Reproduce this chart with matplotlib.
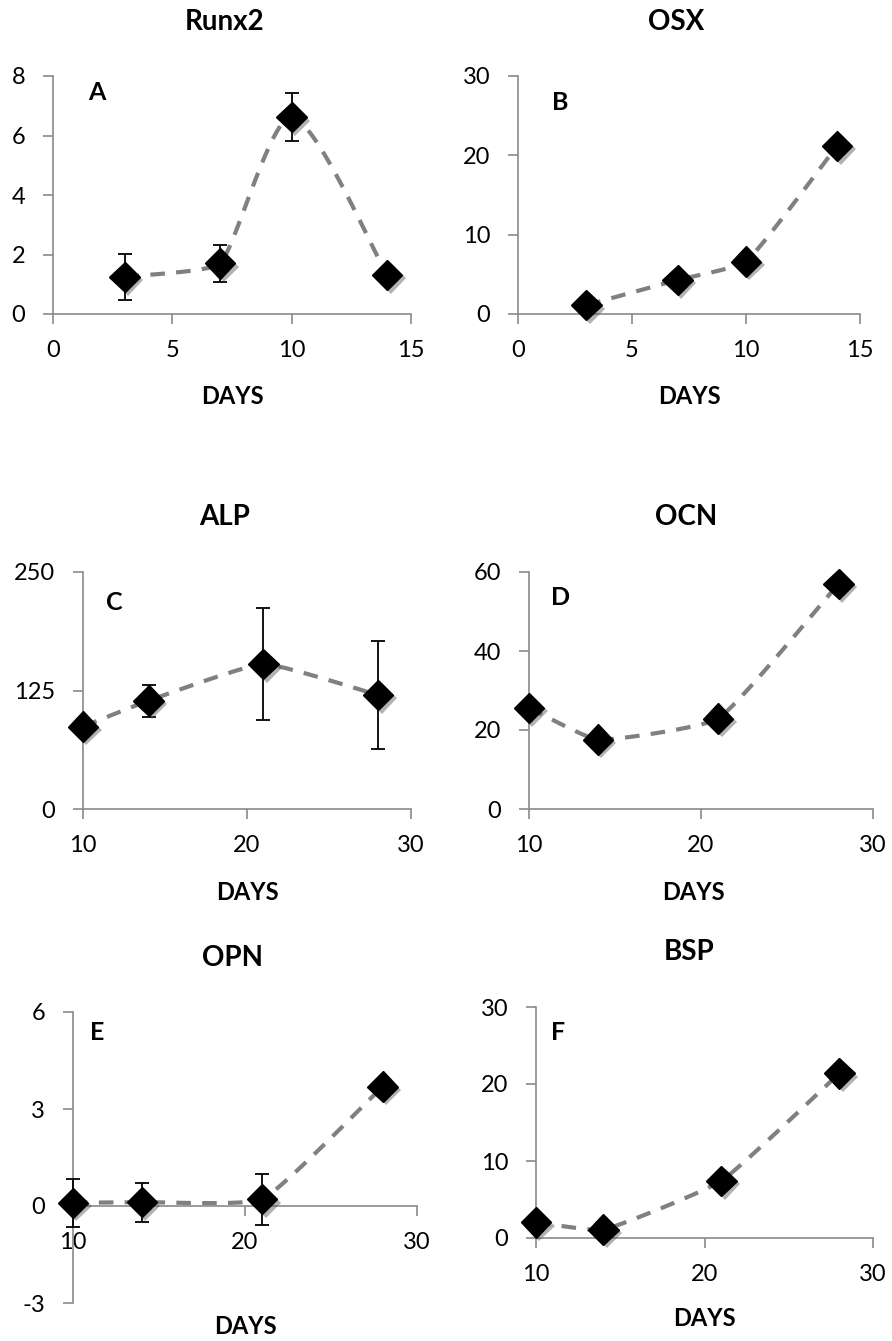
import numpy as np
import matplotlib
matplotlib.use("Agg")
import matplotlib.pyplot as plt
import matplotlib.patheffects as pe

plt.rcParams['font.family'] = ['Lato', 'DejaVu Sans']
plt.rcParams['axes.unicode_minus'] = False

# ---------------- data ----------------
days_early = [3, 7, 10, 14]
days_late = [10, 14, 21, 28]

runx2 = [1.25, 1.70, 6.62, 1.31]
runx2_err = [0.77, 0.61, 0.82, 0.0]
osx = [1.13, 4.29, 6.60, 21.2]
alp = [87.0, 114.3, 152.9, 120.3]
alp_err = [0.0, 17.0, 58.7, 57.0]
ocn = [25.6, 17.55, 22.9, 57.0]
opn = [0.10, 0.12, 0.21, 3.69]
opn_err = [0.75, 0.60, 0.79, 0.25]
bsp = [2.03, 1.08, 7.42, 21.37]

titles = ["Runx2", "OSX", "ALP", "OCN", "OPN", "BSP"]
letters = ["A", "B", "C", "D", "E", "F"]
xlabel = "DAYS"

W, H = 892, 1341
fig = plt.figure(figsize=(W / 100, H / 100), dpi=100)

GRAY = "#8a8a8a"
LINE = "#808080"


def add_ax(l, r, t, b):
    return fig.add_axes([l / W, 1 - b / H, (r - l) / W, (b - t) / H])


def smooth_curve(ax, xs, ys, n=40, k=0.13):
    pts = ax.transData.transform(np.column_stack([xs, ys]))
    P = np.vstack([pts[0], pts, pts[-1]])
    out = []

    def unit(v):
        nv = np.hypot(*v)
        return v / nv if nv > 0 else v

    for i in range(1, len(P) - 2):
        p0, p1, p2, p3 = P[i - 1], P[i], P[i + 1], P[i + 2]
        L = np.hypot(*(p2 - p1))
        c1 = p1 + unit(p2 - p0) * L * k
        c2 = p2 - unit(p3 - p1) * L * k
        t = np.linspace(0, 1, n)[:, None]
        seg = ((1 - t) ** 3) * p1 + 3 * ((1 - t) ** 2) * t * c1 + 3 * (1 - t) * t ** 2 * c2 + t ** 3 * p2
        out.append(seg if i == 1 else seg[1:])
    out = np.vstack(out)
    d = ax.transData.inverted().transform(out)
    return d[:, 0], d[:, 1]


def panel(rect, xs, ys, err, xlim, xticks, ylim, yticks, title, tpos, letter, lpos,
          dpos, zero_spine=False):
    ax = add_ax(*rect)
    ax.set_xlim(*xlim)
    ax.set_ylim(*ylim)
    ax.set_xticks(xticks)
    ax.set_yticks(yticks)
    for s in ["top", "right"]:
        ax.spines[s].set_visible(False)
    for s in ["left", "bottom"]:
        ax.spines[s].set_color(GRAY)
        ax.spines[s].set_linewidth(1.2)
    if zero_spine:
        ax.spines["bottom"].set_position(("data", 0))
    ax.tick_params(axis="both", direction="out", length=7, width=1.2, color=GRAY,
                   labelsize=17, labelcolor="black")
    ax.tick_params(axis="x", pad=12)
    ax.tick_params(axis="y", pad=13)
    ax.patch.set_alpha(0)

    cx, cy = smooth_curve(ax, xs, ys)
    ax.plot(cx, cy, color=LINE, lw=3.0, ls=(0, (3.5, 2.7)), dash_capstyle="butt",
            zorder=2, clip_on=False)
    if err is not None:
        ax.errorbar(xs, ys, yerr=err, fmt="none", ecolor="black", elinewidth=1.3,
                    capsize=5, capthick=1.3, zorder=3, clip_on=False)
    ax.plot(xs, ys, ls="none", marker="D", ms=15.5, mfc="black", mec="black",
            zorder=4, clip_on=False,
            path_effects=[pe.SimplePatchShadow(offset=(2.5, -2.5), shadow_rgbFace="#555555",
                                               alpha=0.45), pe.Normal()])

    fig.text(tpos[0] / W, 1 - tpos[1] / H, title, ha="center", va="center",
             fontsize=20, fontweight="bold")
    fig.text(lpos[0] / W, 1 - lpos[1] / H, letter, ha="left", va="center",
             fontsize=18, fontweight="bold")
    fig.text(dpos[0] / W, 1 - dpos[1] / H, xlabel, ha="center", va="center",
             fontsize=17, fontweight="bold")
    return ax


panel((53, 411, 76, 314), days_early, runx2, runx2_err, (0, 15), [0, 5, 10, 15],
      (0, 8), [0, 2, 4, 6, 8], titles[0], (225, 22), letters[0], (88, 93), (232, 397))
panel((518, 860, 76, 314), days_early, osx, None, (0, 15), [0, 5, 10, 15],
      (0, 30), [0, 10, 20, 30], titles[1], (676, 22), letters[1], (552, 103), (689, 397))
panel((83, 411, 572, 809), days_late, alp, alp_err, (10, 30), [10, 20, 30],
      (0, 250), [0, 125, 250], titles[2], (225, 517), letters[2], (106, 602), (247, 892))
panel((529, 873, 572, 809), days_late, ocn, None, (10, 30), [10, 20, 30],
      (0, 60), [0, 20, 40, 60], titles[3], (686, 517), letters[3], (551, 597), (693, 892))
panel((73, 417, 1012, 1303), days_late, opn, opn_err, (10, 30), [10, 20, 30],
      (-3, 6), [-3, 0, 3, 6], titles[4], (233, 958), letters[4], (90, 1032), (245, 1327),
      zero_spine=True)
panel((536, 873, 1007, 1238), days_late, bsp, None, (10, 30), [10, 20, 30],
      (0, 30), [0, 10, 20, 30], titles[5], (689, 952), letters[5], (551, 1032), (704, 1318))

fig.savefig("out.png", dpi=100)
